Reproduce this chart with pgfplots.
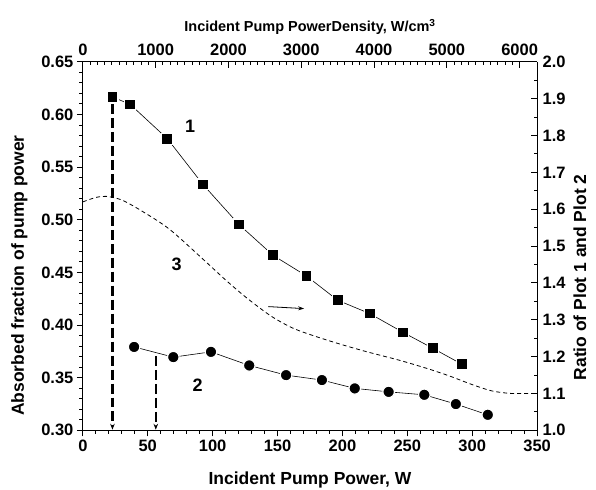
\documentclass[border=0pt]{standalone}
\usepackage{pgfplots}
\pgfplotsset{compat=1.18}
\usepackage{fontspec}
\setmainfont{Liberation Sans}
\usetikzlibrary{arrows.meta}

\pgfplotsset{
  common/.style={
    scale only axis,
    width=455pt, height=369pt,
    xmin=0, xmax=350,
    axis line style={line width=1.2pt},
    every tick/.style={line width=1pt, black},
    major tick length=6pt,
    minor tick length=3.5pt,
    tick label style={font=\bfseries\fontsize{16.5}{19}\selectfont},
    label style={font=\bfseries\fontsize{17.5}{20}\selectfont},
    /pgf/number format/assume math mode=true,
  },
}

\begin{document}
\begin{tikzpicture}

% bottom / left axis: absorbed fraction
\begin{axis}[
  common,
  axis x line*=bottom, axis y line*=left,
  tick align=outside,
  ymin=0.30, ymax=0.65,
  xtick={0,50,...,350}, minor x tick num=4,
  ytick={0.30,0.35,...,0.66}, minor y tick num=4,
  yticklabel style={/pgf/number format/fixed, /pgf/number format/fixed zerofill, /pgf/number format/precision=2},
  xlabel={Incident Pump Power, W},
  ylabel={Absorbed fraction of pump power},
  xlabel style={at={(axis description cs:0.5,-0.135)}, anchor=center},
  ylabel style={at={(axis description cs:-0.14,0.42)}, anchor=center},
  clip=false,
]
\coordinate (bl) at (rel axis cs:0,0);
\coordinate (tr) at (rel axis cs:1,1);

% plot 1
\addplot[black, line width=0.6pt, mark=square*, mark size=5.5pt,
  mark options={fill=black, draw=white, line width=1.2pt}] coordinates {
  (22.8,0.6168) (36.6,0.6095) (65.1,0.5770) (92.5,0.5336)
  (120.2,0.4956) (146.6,0.4662) (172.3,0.4466) (196.4,0.4235)
  (221.0,0.4109) (246.9,0.3929) (269.5,0.3780) (292.0,0.3628)
};

% plot 2
\addplot[black, line width=0.6pt, mark=*, mark size=5.8pt,
  mark options={fill=black, draw=white, line width=1.2pt}] coordinates {
  (39.5,0.3792) (69.7,0.3695) (98.7,0.3745) (128.2,0.3616)
  (156.6,0.3524) (184.2,0.3477) (209.5,0.3398) (235.6,0.3365)
  (263.1,0.3337) (287.4,0.3249) (312.0,0.3147)
};

% dashed drop lines
\addplot[black, line width=2.2pt, dash pattern=on 10pt off 4pt, -{Stealth[length=6pt,width=4.5pt]}]
  coordinates {(22.8,0.610) (22.8,0.3005)};
\addplot[black, line width=2.2pt, dash pattern=on 10pt off 4pt, -{Stealth[length=6pt,width=4.5pt]}]
  coordinates {(56.2,0.3707) (56.2,0.3005)};

% arrow pointing to the right axis
\addplot[black, line width=0.8pt, -{Stealth[length=6pt,width=4pt]}]
  coordinates {(143.0,0.4175) (170.5,0.4156)};

\node[font=\bfseries\fontsize{18}{20}\selectfont] at (axis cs:82.7,0.589) {1};
\node[font=\bfseries\fontsize{18}{20}\selectfont] at (axis cs:88.5,0.343) {2};
\node[font=\bfseries\fontsize{18}{20}\selectfont] at (axis cs:72.3,0.458) {3};
\end{axis}

% right axis: ratio
\begin{axis}[
  common,
  axis x line=none, axis y line*=right,
  tick align=inside,
  ymin=1.0, ymax=2.0,
  ytick={1.0,1.1,...,2.01}, minor y tick num=1,
  yticklabel style={xshift=2pt, /pgf/number format/fixed, /pgf/number format/fixed zerofill, /pgf/number format/precision=1},
  ylabel={Ratio of Plot 1 and Plot 2},
  ylabel style={at={(axis description cs:1.094,0.415)}, anchor=center},
]
% plot 3
\addplot[black, line width=0.8pt, dash pattern=on 4pt off 3pt, smooth] coordinates {
  (0,1.620) (10,1.632) (18,1.635) (30,1.625) (46,1.594) (67,1.545)
  (93,1.463) (110,1.408) (126,1.360) (145,1.310) (162,1.277) (180,1.254)
  (200,1.232) (220,1.212) (244,1.190) (265,1.168) (282,1.148) (300,1.124)
  (315,1.107) (330,1.100) (350,1.100)
};
\end{axis}

% top axis: power density
\begin{axis}[
  common,
  axis x line*=top, axis y line=none,
  tick align=inside,
  xmin=0, xmax=6240, ymin=0, ymax=1,
  xtick={0,1000,...,6000}, minor x tick num=9,
  xticklabel style={yshift=3pt, /pgf/number format/fixed, /pgf/number format/1000 sep={}},
  xlabel={Incident Pump PowerDensity, W/cm$^{\mathbf{3}}$},
  xlabel style={at={(axis description cs:0.5,1.094)}, anchor=center, font=\bfseries\fontsize{14.5}{17}\selectfont},
]
\end{axis}

\pgfresetboundingbox
\path ([shift={(-83pt,-59pt)}]bl) rectangle ([shift={(59pt,62pt)}]tr);
\end{tikzpicture}
\end{document}
